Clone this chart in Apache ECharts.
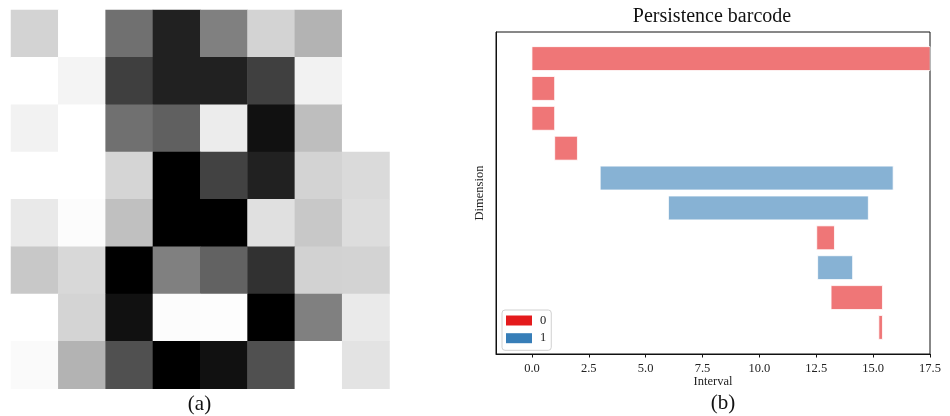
<!DOCTYPE html>
<html>
<head>
<meta charset="utf-8">
<script src="https://cdn.jsdelivr.net/npm/echarts@6/dist/echarts.min.js"></script>
<style>html,body{margin:0;padding:0;background:#fff;}#c{width:950px;height:416px;}</style>
</head>
<body>
<div id="c"></div>
<script>
// (a) 8x8 digit image: darkness 0 (white) .. 255 (black), row by row from the top
const pixelRows = [
  [44, 0, 143, 222, 127, 44, 76, 0],
  [0, 11, 192, 222, 222, 191, 13, 0],
  [13, 0, 143, 159, 19, 238, 65, 0],
  [0, 0, 42, 255, 189, 222, 44, 37],
  [22, 3, 63, 255, 255, 31, 55, 34],
  [55, 39, 255, 127, 157, 206, 45, 44],
  [0, 43, 238, 3, 2, 255, 127, 21],
  [5, 76, 175, 255, 238, 175, 0, 28]
];

// (b) persistence barcode intervals
const barDim   = [0, 0, 0, 0, 1, 1, 0, 1, 0, 0];
const barBirth = [0.0, 0.0, 0.0, 1.0, 3.0, 6.0, 12.52, 12.56, 13.15, 15.25];
const barDeath = [17.5, 1.0, 1.0, 2.0, 15.88, 14.79, 13.30, 14.10, 15.41, 15.41];
const dimNames = ['0', '1'];
const dimColors = ['#e41a1c', '#377eb8'];
const dimFills = ['rgba(228,26,28,0.6)', 'rgba(55,126,184,0.6)'];
const xTicks = [0, 2.5, 5, 7.5, 10, 12.5, 15, 17.5];

const heatData = [];
pixelRows.forEach((row, r) => row.forEach((v, c) => heatData.push([c, r, v])));

function makeRender(fill) {
  return function (params, api) {
    const idx = api.value(0), b = api.value(1), d = api.value(2);
    const p0 = api.coord([b, idx - 0.4]);
    const p1 = api.coord([d, idx + 0.4]);
    const rect = {
      x: Math.min(p0[0], p1[0]), y: Math.min(p0[1], p1[1]),
      width: Math.abs(p1[0] - p0[0]), height: Math.abs(p1[1] - p0[1])
    };
    const cs = params.coordSys;
    const shape = echarts.graphic.clipRectByRect(rect, {x: cs.x, y: cs.y, width: cs.width, height: cs.height});
    return shape && {type: 'rect', shape: shape, style: {fill: fill, stroke: '#ffffff', lineWidth: 0.8}};
  };
}

const barSeries = dimNames.map((name, k) => ({
  type: 'custom',
  name: name,
  xAxisIndex: 1, yAxisIndex: 1,
  renderItem: makeRender(dimFills[k]),
  itemStyle: {color: dimColors[k]},
  encode: {x: [1, 2], y: 0},
  data: barDim.map((d, i) => d === k ? [i, barBirth[i], barDeath[i]] : null).filter(x => x)
}));

const serif = '"Liberation Serif", "DejaVu Serif", serif';
const chart = echarts.init(document.getElementById('c'), null, {renderer: 'canvas'});
chart.setOption({
  animation: false,
  backgroundColor: '#ffffff',
  grid: [
    {left: 11, top: 10, width: 378.5, height: 378.7},
    {left: 496, top: 32, width: 434, height: 322, show: true, borderColor: '#111', borderWidth: 1, backgroundColor: 'transparent'}
  ],
  xAxis: [
    {type: 'category', gridIndex: 0, data: [0,1,2,3,4,5,6,7], show: false},
    {type: 'value', gridIndex: 1, min: -1.58, max: 17.5,
     splitLine: {show: false},
     axisLine: {show: true, onZero: false, lineStyle: {color: '#111', width: 1}},
     axisTick: {show: true, customValues: xTicks, length: 3.5, lineStyle: {color: '#111'}},
     axisLabel: {customValues: xTicks, formatter: v => v.toFixed(1), margin: 8, color: '#222', fontFamily: serif, fontSize: 12.5},
     name: 'Interval', nameLocation: 'middle', nameGap: 21, nameMoveOverlap: false,
     nameTextStyle: {color: '#222', fontFamily: serif, fontSize: 12.5}}
  ],
  yAxis: [
    {type: 'category', gridIndex: 0, data: [0,1,2,3,4,5,6,7], inverse: true, show: false},
    {type: 'value', gridIndex: 1, min: -0.89, max: 9.89, inverse: true,
     splitLine: {show: false}, axisTick: {show: false}, axisLabel: {show: false},
     axisLine: {show: true, onZero: false, lineStyle: {color: '#111', width: 1}},
     name: 'Dimension', nameLocation: 'middle', nameGap: 10, nameRotate: 90,
     nameTextStyle: {color: '#222', fontFamily: serif, fontSize: 12.5}}
  ],
  visualMap: {show: false, type: 'continuous', seriesIndex: 0, min: 0, max: 255, inRange: {color: ['#ffffff', '#000000']}},
  legend: {
    data: dimNames, orient: 'vertical', left: 502, top: 310,
    icon: 'rect', itemWidth: 26, itemHeight: 10, itemGap: 4.7,
    backgroundColor: '#fff', borderColor: '#d0d0d0', borderWidth: 1, borderRadius: 3,
    padding: [4, 5, 5.6, 4],
    textStyle: {fontFamily: serif, fontSize: 12.5, color: '#222', lineHeight: 12, padding: [0, 0, 0, 3]}
  },
  graphic: [
    {type: 'text', x: 712, y: 17, style: {text: 'Persistence barcode', font: '20px ' + serif, fill: '#111', textAlign: 'center', textVerticalAlign: 'middle'}},
    {type: 'text', x: 199.5, y: 404, style: {text: '(a)', font: '21px ' + serif, fill: '#111', textAlign: 'center', textVerticalAlign: 'middle'}},
    {type: 'text', x: 723, y: 403, style: {text: '(b)', font: '21px ' + serif, fill: '#111', textAlign: 'center', textVerticalAlign: 'middle'}}
  ],
  series: [
    {type: 'heatmap', xAxisIndex: 0, yAxisIndex: 0, data: heatData, itemStyle: {borderWidth: 0}}
  ].concat(barSeries)
});
</script>
</body>
</html>
